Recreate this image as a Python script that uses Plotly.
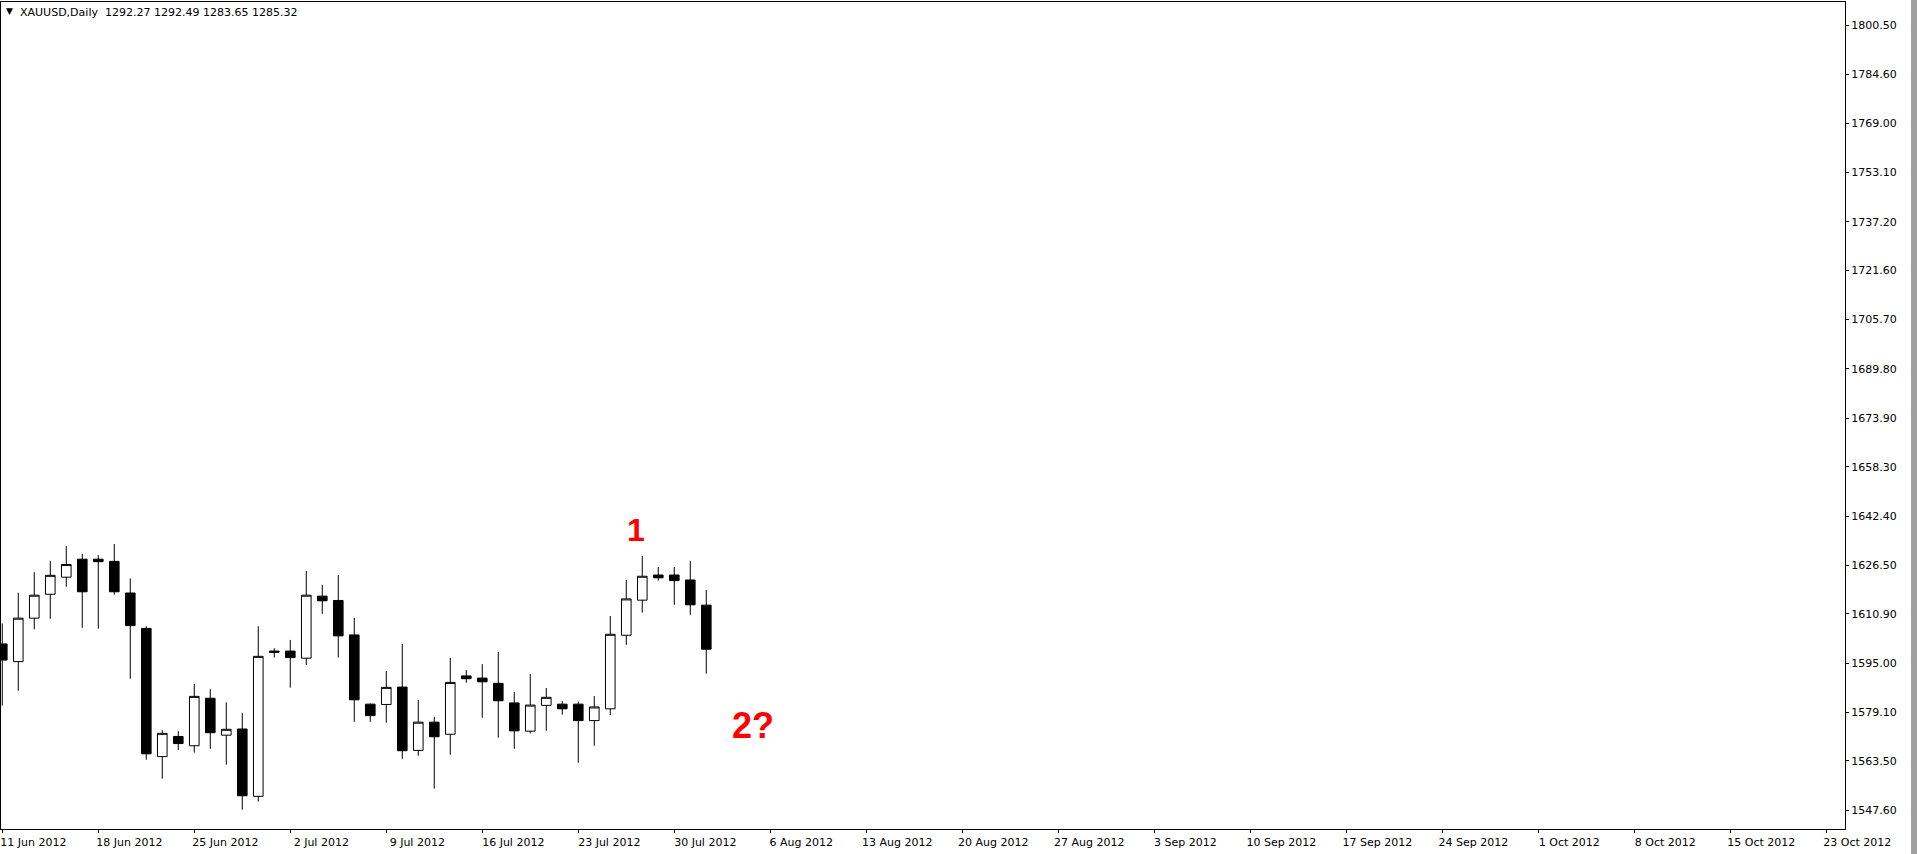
import plotly.graph_objects as go

# ---------------- data ----------------
symbol_title = "XAUUSD,Daily"
header_values = ["1292.27", "1292.49", "1283.65", "1285.32"]

opens = [1601.2, 1595.5, 1609.5, 1617.2, 1622.7, 1628.5, 1628.5, 1627.8, 1617.6, 1606.2,
         1564.9, 1571.4, 1568.4, 1583.7, 1571.8, 1573.8, 1552.1, 1598.9, 1598.9, 1596.6,
         1616.6, 1615.2, 1604.1, 1581.8, 1581.7, 1587.3, 1566.9, 1576.0, 1572.1, 1590.9,
         1590.2, 1588.5, 1582.2, 1573.1, 1581.4, 1581.8, 1581.8, 1576.5, 1580.3, 1604.0,
         1615.3, 1623.4, 1623.4, 1621.8, 1613.7]
highs = [1607.8, 1617.7, 1624.3, 1627.9, 1632.7, 1630.2, 1629.8, 1633.4, 1622.3, 1606.9,
         1573.4, 1573.1, 1588.3, 1586.6, 1582.4, 1578.9, 1606.9, 1599.8, 1602.5, 1624.7,
         1620.2, 1623.4, 1609.6, 1582.0, 1592.5, 1601.2, 1583.1, 1577.7, 1596.7, 1592.8,
         1594.7, 1598.6, 1585.7, 1591.5, 1587.0, 1582.8, 1582.6, 1584.4, 1610.2, 1621.8,
         1629.5, 1626.0, 1626.0, 1627.9, 1618.6]
lows = [1581.3, 1586.1, 1605.9, 1609.3, 1619.6, 1606.4, 1606.1, 1617.1, 1590.0, 1563.9,
        1557.8, 1567.0, 1566.2, 1567.4, 1562.3, 1547.8, 1550.4, 1596.8, 1587.1, 1594.4,
        1610.9, 1596.8, 1576.1, 1576.1, 1575.8, 1564.2, 1565.2, 1554.6, 1565.5, 1588.7,
        1577.4, 1571.0, 1567.4, 1572.4, 1573.2, 1578.4, 1562.9, 1568.4, 1578.3, 1600.9,
        1611.3, 1621.6, 1613.8, 1610.6, 1591.6]
closes = [1596.0, 1609.5, 1616.9, 1623.3, 1626.8, 1618.0, 1627.7, 1618.0, 1607.1, 1565.8,
          1572.4, 1569.1, 1584.3, 1572.6, 1573.7, 1552.3, 1597.2, 1598.5, 1596.8, 1616.9,
          1615.1, 1603.8, 1583.2, 1578.1, 1587.2, 1566.8, 1576.0, 1571.3, 1588.8, 1590.0,
          1589.0, 1582.9, 1573.2, 1581.5, 1584.0, 1580.3, 1576.5, 1580.9, 1604.3, 1615.7,
          1623.0, 1622.5, 1621.6, 1613.8, 1599.5]

week_labels = ["11 Jun 2012", "18 Jun 2012", "25 Jun 2012", "2 Jul 2012", "9 Jul 2012",
               "16 Jul 2012", "23 Jul 2012", "30 Jul 2012", "6 Aug 2012", "13 Aug 2012",
               "20 Aug 2012", "27 Aug 2012", "3 Sep 2012", "10 Sep 2012", "17 Sep 2012",
               "24 Sep 2012", "1 Oct 2012", "8 Oct 2012", "15 Oct 2012", "23 Oct 2012"]
bars_per_week = 6

price_ticks = [1547.60, 1563.50, 1579.10, 1595.00, 1610.90, 1626.50, 1642.40, 1658.30,
               1673.90, 1689.80, 1705.70, 1721.60, 1737.20, 1753.10, 1769.00, 1784.60, 1800.50]

wave_labels = ["1", "2?"]
wave_bar = [39.6, 46.95]
wave_price = [1637.9, 1574.8]
wave_sizes = [32, 36]

# ---------------- figure ----------------
bars = list(range(len(opens)))

fig = go.Figure(go.Candlestick(
    x=bars, open=opens, high=highs, low=lows, close=closes,
    increasing=dict(line=dict(color="black", width=1), fillcolor="white"),
    decreasing=dict(line=dict(color="black", width=1), fillcolor="black"),
    whiskerwidth=0, hoverinfo="skip", showlegend=False,
))

W, H = 1917, 854
ML, MR, MT, MB = 1, 72, 2, 25
pw, ph = W - ML - MR, H - MT - MB


def px_x(X):
    return (X - ML) / pw


def px_y(Y):
    return (H - MB - Y) / ph


annotations = [
    dict(text="\u25bc", xref="paper", yref="paper", x=px_x(9.5), y=px_y(11.5),
         xanchor="center", yanchor="middle", showarrow=False,
         font=dict(family="DejaVu Sans", size=9, color="black")),
    dict(text=symbol_title + "\u00a0\u00a0" + " ".join(header_values),
         xref="paper", yref="paper", x=px_x(18), y=px_y(12.8),
         xanchor="left", yanchor="middle", showarrow=False,
         font=dict(family="DejaVu Sans", size=11, color="black")),
]
for t, xb, yp, fs in zip(wave_labels, wave_bar, wave_price, wave_sizes):
    annotations.append(dict(text=t, x=xb, y=yp, xref="x", yref="y", showarrow=False,
                            xanchor="center", yanchor="middle",
                            font=dict(family="Liberation Sans, Arial", size=fs,
                                      color="#ff0000", weight="bold")))

fig.update_layout(
    width=W, height=H,
    margin=dict(l=ML, r=MR, t=MT, b=MB, pad=0),
    paper_bgcolor="white", plot_bgcolor="white",
    font=dict(family="DejaVu Sans", size=11, color="black"),
    showlegend=False,
    boxgap=0.4, boxgroupgap=0,
    annotations=annotations,
    shapes=[dict(type="rect", xref="paper", yref="paper",
                 x0=px_x(1911), x1=px_x(1918), y0=px_y(-2), y1=px_y(856),
                 fillcolor="#a0a0a0", line=dict(width=0), layer="above")],
    xaxis=dict(
        range=[-0.08, 115.17],
        tickmode="array",
        tickvals=[bars_per_week * i for i in range(len(week_labels))],
        ticktext=week_labels,
        ticks="outside", ticklen=3, tickwidth=1, tickcolor="black",
        ticklabelshift=31,
        showline=True, linecolor="black", linewidth=1, mirror=True,
        showgrid=False, zeroline=False,
        rangeslider=dict(visible=False),
        tickfont=dict(family="DejaVu Sans", size=11, color="black"),
    ),
    yaxis=dict(
        side="right",
        range=[1541.58, 1808.0],
        tickmode="array", tickvals=price_ticks, tickformat=".2f",
        ticks="outside", ticklen=3, tickwidth=1, tickcolor="black",
        showline=True, linecolor="black", linewidth=1, mirror=True,
        showgrid=False, zeroline=False,
        tickfont=dict(family="DejaVu Sans", size=11, color="black"),
    ),
)

fig.write_html("out.html",
               config={"displayModeBar": False},
               post_script="document.body.style.margin='0';document.body.style.overflow='hidden';")
